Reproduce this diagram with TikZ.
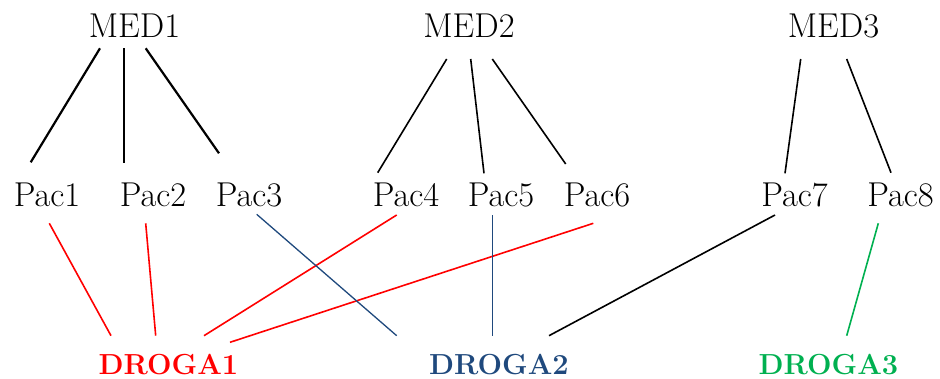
\documentclass[tikz,border=0pt]{standalone}
\definecolor{drogared}{RGB}{255,0,0}
\definecolor{drogablue}{RGB}{31,73,125}
\definecolor{drogagreen}{RGB}{0,176,80}
\tikzset{
  med/.style={anchor=base,inner sep=0pt,font=\fontsize{34.5}{40}\selectfont},
  pac/.style={anchor=base,inner sep=0pt,font=\fontsize{34.5}{40}\selectfont},
  droga/.style={anchor=base,inner sep=0pt,font=\fontsize{29}{35}\selectfont\bfseries},
}
\begin{document}
\begin{tikzpicture}[x=1pt,y=-1pt]
      \useasboundingbox (0,0) rectangle (940,378);
      \draw
        (134.5,37) node[med] (med1){MED1}
        (469,37) node[med] (med2){MED2}
        (833.5,37) node[med] (med3){MED3}
        (47,206) node[pac] (pac1){Pac1}
        (153,206) node[pac] (pac2){Pac2}
        (249,206) node[pac] (pac3){Pac3}
        (406,206) node[pac] (pac4){Pac4}
        (501,206) node[pac] (pac5){Pac5}
        (597,206) node[pac] (pac6){Pac6}
        (794.5,206) node[pac] (pac7){Pac7}
        (900.5,206) node[pac] (pac8){Pac8}
        (168.5,374) node[droga,text=drogared] (droga1){DROGA1}
        (499,374) node[droga,text=drogablue] (droga2){DROGA2}
        (828.5,374) node[droga,text=drogagreen] (droga3){DROGA3};
      \begin{scope}[-,line width=2.2pt]
        \draw ([shift={(-34.5,11.3)}]med1.base) to ([shift={(-16.3,-43.7)}]pac1.base);
        \draw ([shift={(-10.5,11.3)}]med1.base) to ([shift={(-29,-43.3)}]pac2.base);
        \draw ([shift={(11.2,11.3)}]med1.base) to ([shift={(-30,-52.7)}]pac3.base);
      \end{scope}
      \begin{scope}[-,line width=1.6pt]
        \draw ([shift={(-22.3,22)}]med2.base) to ([shift={(-28.3,-33.3)}]pac4.base);
        \draw ([shift={(1.7,22)}]med2.base) to ([shift={(-17,-32.7)}]pac5.base);
        \draw ([shift={(23.3,22)}]med2.base) to ([shift={(-31.3,-42)}]pac6.base);
        \draw ([shift={(-32.8,22)}]med3.base) to ([shift={(-9.5,-32.7)}]pac7.base);
        \draw ([shift={(13.2,22)}]med3.base) to ([shift={(-9.5,-33.3)}]pac8.base);
        \draw ([shift={(-19.5,9)}]pac7.base) to ([shift={(50,-38.3)}]droga2.base);
      \end{scope}
      \begin{scope}[-,line width=1.6pt,drogared]
        \draw ([shift={(2.3,17.3)}]pac1.base) to ([shift={(-57.5,-38.3)}]droga1.base);
        \draw ([shift={(-7.3,17.3)}]pac2.base) to ([shift={(-12.8,-38.3)}]droga1.base);
        \draw ([shift={(-9.3,9)}]pac4.base) to ([shift={(35.5,-38.3)}]droga1.base);
        \draw ([shift={(-3.7,17.3)}]pac6.base) to ([shift={(61.5,-31.7)}]droga1.base);
      \end{scope}
      \begin{scope}[-,line width=1.3pt,drogablue]
        \draw ([shift={(7.7,8.3)}]pac3.base) to ([shift={(-102.3,-38.3)}]droga2.base);
        \draw ([shift={(-8.3,9)}]pac5.base) to ([shift={(-6.3,-38.3)}]droga2.base);
      \end{scope}
      \begin{scope}[-,line width=1.6pt,drogagreen]
        \draw ([shift={(-22.2,17.3)}]pac8.base) to ([shift={(18.2,-38.3)}]droga3.base);
      \end{scope}
    \end{tikzpicture}
\end{document}
